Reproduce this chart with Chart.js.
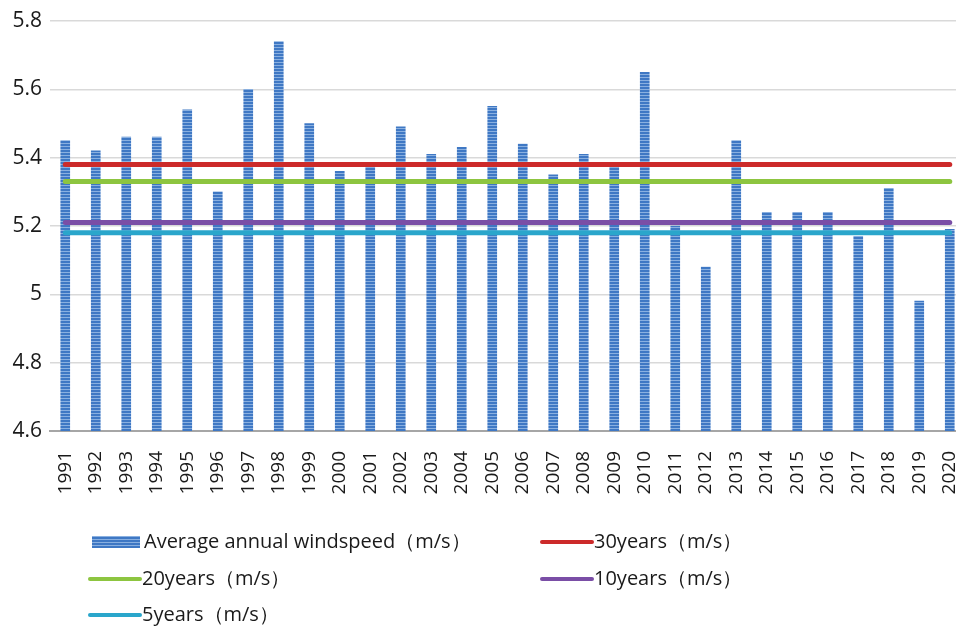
<!DOCTYPE html>
<html>
<head>
<meta charset="utf-8">
<script src="https://cdn.jsdelivr.net/npm/chart.js@4/dist/chart.umd.min.js"></script>
<style>
  html, body { margin: 0; padding: 0; overflow: hidden; background: #fff; }
</style>
</head>
<body>
<canvas id="chart" width="965" height="629"></canvas>
<script>
const years = ["1991", "1992", "1993", "1994", "1995", "1996", "1997", "1998", "1999", "2000",
  "2001", "2002", "2003", "2004", "2005", "2006", "2007", "2008", "2009", "2010",
  "2011", "2012", "2013", "2014", "2015", "2016", "2017", "2018", "2019", "2020"];

const windSpeed = [5.45, 5.42, 5.46, 5.46, 5.54, 5.30, 5.60, 5.74, 5.50, 5.36,
  5.38, 5.49, 5.41, 5.43, 5.55, 5.44, 5.35, 5.41, 5.38, 5.65,
  5.20, 5.08, 5.45, 5.24, 5.24, 5.24, 5.17, 5.31, 4.98, 5.19];

// multi-year means (m/s)
const mean30 = 5.38;
const mean20 = 5.33;
const mean10 = 5.21;
const mean5 = 5.18;

const yTicks = [4.6, 4.8, 5.0, 5.2, 5.4, 5.6, 5.8];

const FONT = "'Open Sans', 'Liberation Sans', sans-serif";

// blue fill with thin light horizontal stripes
function stripePattern(ctx) {
  const c = document.createElement("canvas");
  c.width = 4;
  c.height = 3;
  const g = c.getContext("2d");
  g.fillStyle = "#3f78c4";
  g.fillRect(0, 0, 4, 3);
  g.fillStyle = "#8ab0e0";
  g.fillRect(0, 2, 4, 1);
  return ctx.createPattern(c, "repeat");
}

const canvas = document.getElementById("chart");
const ctx = canvas.getContext("2d");
const barFill = stripePattern(ctx);

function flatLine(label, value, color) {
  return {
    type: "line",
    label: label,
    data: years.map(() => value),
    borderColor: color,
    backgroundColor: color,
    borderWidth: 5,
    borderCapStyle: "round",
    pointRadius: 0,
    fill: false,
    order: 1,
  };
}

// legend laid out in two columns under the axis
const gridLegend = {
  id: "gridLegend",
  afterDraw(chart) {
    const c = chart.ctx;
    const cols = [88, 540];
    const rows = [542, 579, 615];
    c.save();
    c.font = "20px " + FONT;
    c.textBaseline = "middle";
    chart.data.datasets.forEach((ds, i) => {
      const x = cols[i % 2];
      const y = rows[Math.floor(i / 2)];
      let textX;
      if (ds.type === "line") {
        c.strokeStyle = ds.borderColor;
        c.lineWidth = 4;
        c.lineCap = "round";
        c.beginPath();
        c.moveTo(x + 2, y);
        c.lineTo(x + 52, y);
        c.stroke();
        textX = x + 54;
      } else {
        c.fillStyle = barFill;
        c.fillRect(x + 4, y - 6, 48, 12);
        textX = x + 56;
      }
      c.fillStyle = "#1a1a1a";
      c.fillText(ds.label, textX, y);
    });
    c.restore();
  },
};

new Chart(ctx, {
  data: {
    labels: years,
    datasets: [
      {
        type: "bar",
        label: "Average annual windspeed（m/s）",
        data: windSpeed,
        backgroundColor: barFill,
        barThickness: 9,
        order: 2,
      },
      flatLine("30years（m/s）", mean30, "#cc2a2a"),
      flatLine("20years（m/s）", mean20, "#8dc540"),
      flatLine("10years（m/s）", mean10, "#7a4ea6"),
      flatLine("5years（m/s）", mean5, "#2aa6cb"),
    ],
  },
  options: {
    responsive: false,
    animation: false,
    layout: { padding: { top: 21, right: 0, left: 0, bottom: 0 } },
    plugins: {
      legend: { display: false },
      tooltip: { enabled: false },
    },
    scales: {
      x: {
        offset: true,
        grid: { display: false },
        border: { color: "#a6a6a6", width: 2 },
        ticks: {
          minRotation: 90,
          maxRotation: 90,
          padding: 12,
          color: "#1a1a1a",
          font: { family: FONT, size: 19 },
        },
        afterFit(scale) {
          scale.height = 198;
          scale.paddingLeft = 0;
          scale.paddingRight = 0;
        },
      },
      y: {
        min: yTicks[0],
        max: yTicks[yTicks.length - 1],
        border: { display: false },
        grid: { color: "#d9d9d9", lineWidth: 1.5, drawTicks: false },
        afterBuildTicks(scale) {
          scale.ticks = yTicks.map((v) => ({ value: v }));
        },
        ticks: {
          padding: 8,
          color: "#1a1a1a",
          font: { family: FONT, size: 21 },
          callback: (v) => String(Number(v.toFixed(1))),
        },
        afterFit(scale) {
          scale.width = 50;
        },
      },
    },
  },
  plugins: [gridLegend],
});
</script>
</body>
</html>
